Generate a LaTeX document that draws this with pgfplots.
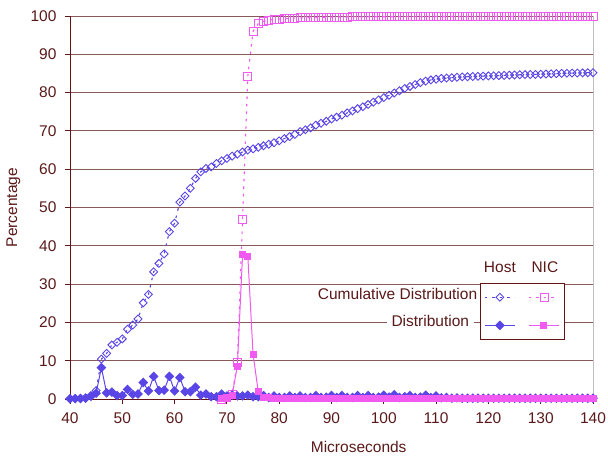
\documentclass[border=0pt]{standalone}
\usepackage{pgfplots}
\pgfplotsset{compat=1.18}
\usepackage{fontspec}
\setmainfont{Liberation Sans}
\definecolor{hostc}{RGB}{90,70,230}
\definecolor{nicc}{RGB}{240,90,240}
\definecolor{textc}{RGB}{90,25,25}
\definecolor{axisc}{RGB}{100,20,20}
\definecolor{gridc}{RGB}{135,90,90}
\newcommand{\cf}{\fontsize{15.5}{18}\selectfont}
\begin{document}
\begin{tikzpicture}
\path[use as bounding box] (-70pt,-58pt) rectangle (538pt,399pt);
\begin{axis}[
  scale only axis, width=523pt, height=383pt,
  xmin=40, xmax=140, ymin=0, ymax=100,
  xtick={40,50,...,140}, ytick={0,10,...,100},
  axis x line*=bottom, axis y line*=left,
  axis line style={draw=axisc, line width=0.9pt, -},
  tick style={draw=axisc, line width=0.9pt},
  tick align=outside, major tick length=5pt,
  ymajorgrids, grid style={draw=gridc, line width=0.9pt},
  /pgf/number format/assume math mode=true,
  tick label style={font=\cf, text=textc},
  yticklabel style={xshift=-5pt},
  xticklabel style={yshift=-5pt},
  every axis y label/.style={at={(axis description cs:-0.108,0.5)}, rotate=90, anchor=center, font=\cf, text=textc},
  every axis x label/.style={at={(axis description cs:0.552,-0.124)}, anchor=center, font=\cf, text=textc},
  xlabel={Microseconds}, ylabel={Percentage},
  clip=false,
  legend image code/.code={\draw[mark repeat=2,mark phase=2,#1] plot coordinates {(0pt,0pt) (15pt,0pt) (30pt,0pt)};},
  legend columns=2,
  legend style={at={(axis cs:118.4,30.3)}, anchor=north west, draw=axisc, fill=white, line width=0.6pt,
    inner xsep=4pt, inner ysep=10pt, row sep=20pt, nodes={inner sep=0pt}},
  /tikz/every even column/.append style={column sep=12pt},
]
% Host cumulative
\addplot[color=hostc, line width=1.1pt, dash pattern=on 2.5pt off 5pt, mark=square, mark size=2.8pt, mark options={solid, rotate=45, fill=white, line width=0.9pt}] table {
40 0
41 0.1
42 0.2
43 0.3
44 0.9
45 2.2
46 10.4
47 11.9
48 14.1
49 14.8
50 15.7
51 18.2
52 19.3
53 20.9
54 25.1
55 27.3
56 33.2
57 35.4
58 37.9
59 43.7
60 45.9
61 51.4
62 53.0
63 55.0
64 57.6
65 59.3
66 60.2
67 60.6
68 61.5
69 62.2
70 62.8
71 63.4
72 63.9
73 64.5
74 65.0
75 65.3
76 65.7
77 66.1
78 66.5
79 66.9
80 67.4
81 68.0
82 68.5
83 69.1
84 69.8
85 70.3
86 70.8
87 71.5
88 72.0
89 72.5
90 73.1
91 73.6
92 74.1
93 74.7
94 75.2
95 75.8
96 76.3
97 76.9
98 77.5
99 78.1
100 78.7
101 79.3
102 79.9
103 80.5
104 81.1
105 81.6
106 82.1
107 82.6
108 83.0
109 83.3
110 83.5
111 83.7
112 83.8
113 83.9
114 84.0
115 84.1
116 84.15
117 84.2
118 84.25
119 84.3
120 84.35
121 84.4
122 84.45
123 84.5
124 84.55
125 84.6
126 84.65
127 84.7
128 84.72
129 84.75
130 84.8
131 84.85
132 84.9
133 84.95
134 85.0
135 85.05
136 85.1
137 85.1
138 85.15
139 85.2
140 85.2
};
\addlegendentry{\mbox{}}
% NIC cumulative
\addplot[color=nicc, line width=1.1pt, dash pattern=on 2.5pt off 5pt, mark=square, mark size=4pt, mark options={solid, fill=white, line width=0.9pt}] table {
69 0
70 0.3
71 1.3
72 9.5
73 47.0
74 84.3
75 96.0
76 98.0
77 98.6
78 98.9
79 99.1
80 99.2
81 99.3
82 99.4
83 99.45
84 99.5
85 99.55
86 99.6
87 99.6
88 99.65
89 99.7
90 99.7
91 99.72
92 99.74
93 99.75
94 99.76
95 99.77
96 99.78
97 99.79
98 99.8
99 99.8
100 99.8
101 99.8
102 99.81
103 99.82
104 99.83
105 99.84
106 99.85
107 99.85
108 99.86
109 99.86
110 99.87
111 99.87
112 99.87
113 99.88
114 99.88
115 99.88
116 99.88
117 99.89
118 99.89
119 99.89
120 99.89
121 99.9
122 99.9
123 99.9
124 99.9
125 99.9
126 99.9
127 99.9
128 99.9
129 99.9
130 99.9
131 99.9
132 99.9
133 99.9
134 99.9
135 99.9
136 99.9
137 99.9
138 99.9
139 99.9
140 99.9
};
\addlegendentry{\mbox{}}
% Host distribution
\addplot[color=hostc, line width=1pt, mark=square*, mark size=2.9pt, mark options={solid, rotate=45}] table {
40 0.1
41 0.1
42 0.1
43 0.2
44 0.7
45 1.5
46 8.2
47 1.6
48 1.8
49 0.9
50 0.9
51 2.5
52 1.2
53 1.3
54 4.3
55 2.1
56 5.9
57 2.2
58 2.3
59 5.9
60 2.1
61 5.6
62 1.9
63 1.9
64 3.1
65 1.0
66 1.3
67 0.6
68 0.6
69 1.3
70 0.8
71 1.0
72 0.8
73 0.8
74 1.0
75 0.6
76 0.6
77 0.9
78 0.4
79 0.8
80 0.4
81 0.4
82 0.8
83 0.4
84 0.8
85 0.4
86 0.4
87 0.9
88 0.4
89 0.5
90 0.9
91 0.4
92 0.9
93 0.4
94 0.4
95 0.9
96 0.4
97 0.9
98 0.4
99 0.5
100 1.0
101 0.5
102 1.1
103 0.4
104 0.6
105 0.9
106 0.4
107 0.5
108 1.0
109 0.4
110 0.8
111 0.3
112 0.4
113 0.2
114 0.3
115 0.2
116 0.2
117 0.2
118 0.2
119 0.2
120 0.2
121 0.2
122 0.2
123 0.2
124 0.2
125 0.2
126 0.2
127 0.2
128 0.2
129 0.2
130 0.2
131 0.2
132 0.2
133 0.2
134 0.2
135 0.2
136 0.2
137 0.2
138 0.2
139 0.2
140 0.2
};
\addlegendentry{\mbox{}}
% NIC distribution
\addplot[color=nicc, line width=1pt, mark=square*, mark size=3pt, mark options={solid}] table {
69 0
70 0.3
71 1.0
72 8.6
73 37.8
74 37.3
75 11.7
76 1.9
77 0.4
78 0.3
79 0.2
80 0.2
81 0.2
82 0.2
83 0.2
84 0.1
85 0.1
86 0.1
87 0.1
88 0.1
89 0.1
90 0.1
91 0.1
92 0.1
93 0.1
94 0.1
95 0.1
96 0.1
97 0.1
98 0.1
99 0.1
100 0.1
101 0.1
102 0.1
103 0.1
104 0.1
105 0.1
106 0.1
107 0.1
108 0.1
109 0.1
110 0.1
111 0.1
112 0.1
113 0.1
114 0.1
115 0.1
116 0.1
117 0.1
118 0.1
119 0.1
120 0.1
121 0.1
122 0.1
123 0.1
124 0.1
125 0.1
126 0.1
127 0.1
128 0.1
129 0.1
130 0.1
131 0.1
132 0.1
133 0.1
134 0.1
135 0.1
136 0.1
137 0.1
138 0.1
139 0.1
140 0.1
};
\addlegendentry{\mbox{}}
\draw[gray!50, line width=0.9pt] (rel axis cs:1,0) -- (rel axis cs:1,1);
\node[font=\cf, text=textc] at (axis cs:122.2,34.5) {Host};
\node[font=\cf, text=textc] at (axis cs:130.8,34.5) {NIC};
\node[font=\cf, text=textc, anchor=east, fill=white, inner sep=0pt] at (axis cs:117.9,27.3) {Cumulative Distribution};
\node[font=\cf, text=textc, anchor=east, fill=white, inner xsep=5pt, inner ysep=1pt] at (axis cs:117.3,20.4) {Distribution};
\end{axis}
\end{tikzpicture}
\end{document}
